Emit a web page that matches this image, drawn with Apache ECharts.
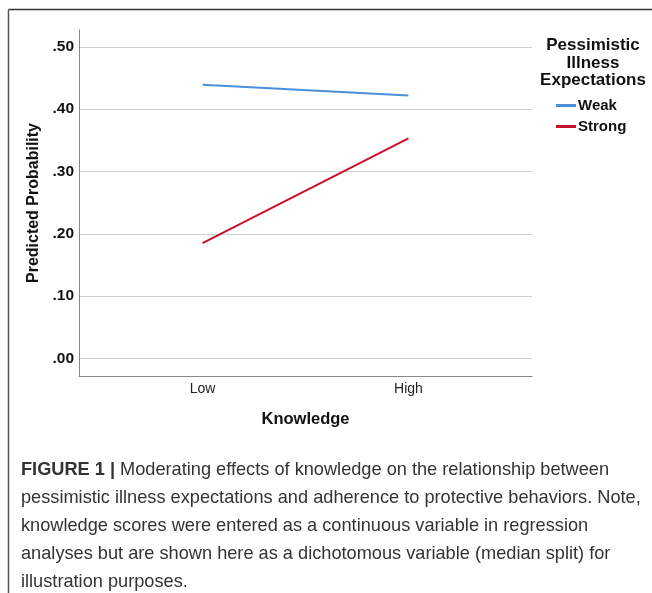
<!DOCTYPE html>
<html>
<head>
<meta charset="utf-8">
<script src="https://cdn.jsdelivr.net/npm/echarts@6/dist/echarts.min.js"></script>
<style>
  html, body { margin: 0; padding: 0; background: #fff; }
  #chart { width: 652px; height: 593px; }
</style>
</head>
<body>
<div id="chart"></div>
<script>
// knowledge levels (x positions 1 and 2)
const categories = ['Low', 'High'];
const weakValues = [0.439, 0.422];
const strongValues = [0.185, 0.353];
const yTicks = [0, 0.1, 0.2, 0.3, 0.4, 0.5];
const seriesNames = ['Weak', 'Strong'];

const toPoints = (vals) => vals.map((v, i) => [i + 1, v]);
const fmtY = (v) => v.toFixed(2).replace(/^0/, '');

const chart = echarts.init(document.getElementById('chart'));
const option = {
  animation: false,
  backgroundColor: '#fff',
  grid: { left: 79, right: 120, top: 30, bottom: 217 },
  xAxis: {
    type: 'value',
    min: 0.4,
    max: 2.6,
    name: 'Knowledge',
    nameLocation: 'middle',
    nameGap: 35,
    nameTextStyle: { fontFamily: 'Liberation Sans', fontWeight: 'bold', fontSize: 16.5, color: '#111' },
    axisLine: { show: true, onZero: false, lineStyle: { color: '#888', width: 1 } },
    axisTick: { show: false },
    splitLine: { show: false },
    axisLabel: {
      customValues: [1, 2],
      formatter: (v) => categories[Math.round(v) - 1] || '',
      fontFamily: 'Liberation Sans',
      fontSize: 14,
      color: '#222',
      margin: 6
    }
  },
  yAxis: {
    type: 'value',
    min: -0.028,
    max: 0.527,
    name: 'Predicted Probability',
    nameLocation: 'middle',
    nameGap: 37,
    nameTextStyle: { fontFamily: 'Liberation Sans', fontWeight: 'bold', fontSize: 16, color: '#111' },
    axisLine: { show: true, onZero: false, lineStyle: { color: '#888', width: 1 } },
    axisTick: { show: false, customValues: yTicks },
    splitLine: { show: true, lineStyle: { color: '#cfcfcf', width: 1 } },
    axisLabel: {
      customValues: yTicks,
      formatter: fmtY,
      fontFamily: 'Liberation Sans',
      fontWeight: 'bold',
      fontSize: 15.5,
      color: '#111',
      margin: 5
    }
  },
  legend: {
    orient: 'vertical',
    left: 556,
    top: 98,
    padding: 0,
    itemWidth: 20,
    itemHeight: 3,
    itemGap: 6,
    icon: 'rect',
    textStyle: { fontFamily: 'Liberation Sans', fontWeight: 'bold', fontSize: 15, color: '#111', padding: [0, 0, 0, -3] },
    data: seriesNames
  },
  series: [
    {
      name: seriesNames[0],
      type: 'line',
      data: toPoints(weakValues),
      symbol: 'none',
      lineStyle: { color: '#4a8fdc', width: 2 },
      itemStyle: { color: '#4a8fdc' }
    },
    {
      name: seriesNames[1],
      type: 'line',
      data: toPoints(strongValues),
      symbol: 'none',
      lineStyle: { color: '#c8102e', width: 2 },
      itemStyle: { color: '#c8102e' }
    }
  ],
  graphic: [
    // figure frame
    { type: 'line', shape: { x1: 8.5, y1: 9.5, x2: 652, y2: 9.5 }, style: { stroke: '#333', lineWidth: 1.5 } },
    { type: 'line', shape: { x1: 8.5, y1: 9.5, x2: 8.5, y2: 593 }, style: { stroke: '#555', lineWidth: 1.5 } },
    // legend title
    {
      type: 'text',
      x: 593,
      y: 37,
      style: {
        text: 'Pessimistic\nIllness\nExpectations',
        align: 'center',
        verticalAlign: 'top',
        fontFamily: 'Liberation Sans',
        fontWeight: 'bold',
        fontSize: 17,
        lineHeight: 17.5,
        fill: '#111'
      }
    },
    // caption
    {
      type: 'text',
      left: 21,
      top: 456,
      style: {
        text: '{b|FIGURE 1 |} Moderating effects of knowledge on the relationship between\n' +
          'pessimistic illness expectations and adherence to protective behaviors. Note,\n' +
          'knowledge scores were entered as a continuous variable in regression\n' +
          'analyses but are shown here as a dichotomous variable (median split) for\n' +
          'illustration purposes.',
        fontFamily: 'Liberation Sans',
        fontSize: 18.2,
        lineHeight: 28,
        fill: '#333',
        rich: {
          b: { fontFamily: 'Liberation Sans', fontWeight: 'bold', fontSize: 18.2, lineHeight: 28, fill: '#333' }
        }
      }
    }
  ]
};
chart.setOption(option);
</script>
</body>
</html>
